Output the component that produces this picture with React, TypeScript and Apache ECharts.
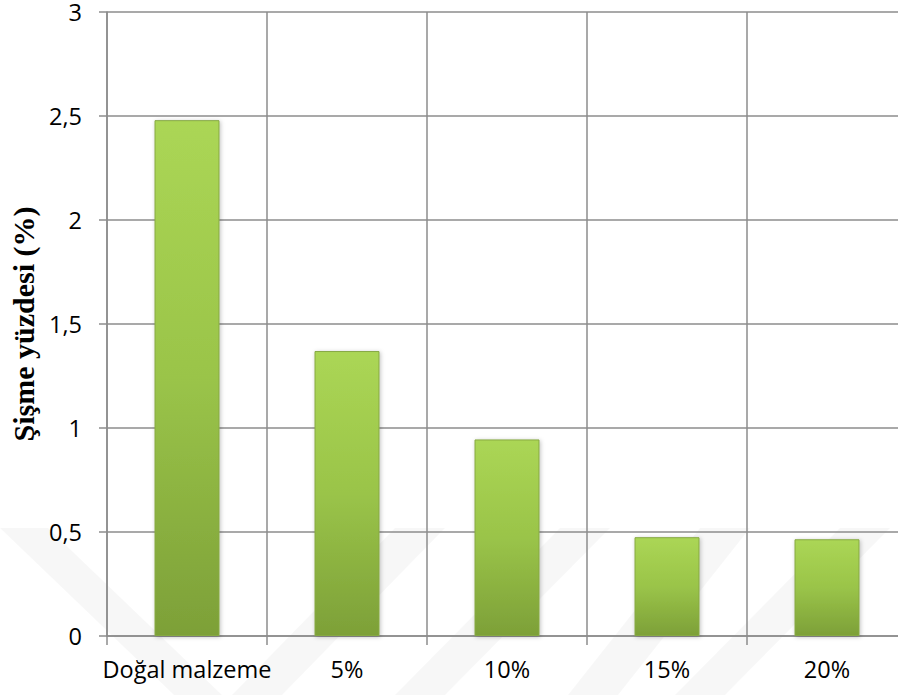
import React, { useEffect, useRef } from "react";
import * as echarts from "echarts";

const categories = ["Doğal malzeme", "5%", "10%", "15%", "20%"];
const swellValues = [2.48, 1.37, 0.945, 0.475, 0.465];
const yTitle = "Şişme yüzdesi (%)";

export default function App() {
  const ref = useRef<HTMLDivElement>(null);
  useEffect(() => {
    if (!ref.current) return;
    const chart = echarts.init(ref.current, undefined, { renderer: "svg" });
    const band = "rgba(0,0,0,0.03)";
    const barGrad = new echarts.graphic.LinearGradient(0, 0, 0, 1, [
      { offset: 0, color: "#abd655" },
      { offset: 0.5, color: "#9ac449" },
      { offset: 1, color: "#7da038" },
    ]);
    chart.setOption({
      animation: false,
      backgroundColor: "#ffffff",
      graphic: [
        { type: "polygon", z: -10, silent: true, shape: { points: [[0, 528], [48, 528], [222, 695], [174, 695]] }, style: { fill: band } },
        { type: "polygon", z: -10, silent: true, shape: { points: [[395, 528], [445, 528], [282, 695], [232, 695]] }, style: { fill: band } },
        { type: "polygon", z: -10, silent: true, shape: { points: [[560, 528], [610, 528], [445, 695], [395, 695]] }, style: { fill: band } },
        { type: "polygon", z: -10, silent: true, shape: { points: [[700, 528], [750, 528], [618, 695], [568, 695]] }, style: { fill: band } },
        { type: "polygon", z: -10, silent: true, shape: { points: [[840, 528], [890, 528], [725, 695], [675, 695]] }, style: { fill: band } },
      ],
      grid: { left: 107, right: 0, top: 12, bottom: 59, containLabel: false },
      xAxis: {
        type: "category",
        data: categories,
        axisLine: { show: true, lineStyle: { color: "#8c8c8c", width: 1.5 } },
        axisTick: { show: true, alignWithLabel: false, interval: 0, length: 9, lineStyle: { color: "#8c8c8c", width: 1.5 } },
        splitLine: { show: true, interval: 0, lineStyle: { color: "#8c8c8c", width: 1.5 } },
        axisLabel: {
          interval: 0,
          margin: 21,
          fontFamily: "Open Sans",
          fontSize: 23.5,
          color: "#000000",
        },
      },
      yAxis: {
        type: "value",
        min: 0,
        max: 3,
        interval: 0.5,
        name: yTitle,
        nameLocation: "middle",
        nameGap: 66,
        nameRotate: 90,
        nameTextStyle: {
          fontFamily: "Liberation Serif",
          fontWeight: "bold",
          fontSize: 30,
          color: "#000000",
        },
        axisLine: { show: true, lineStyle: { color: "#8c8c8c", width: 1.5 } },
        axisTick: { show: true, length: 8, lineStyle: { color: "#8c8c8c", width: 1.5 } },
        splitLine: { show: true, lineStyle: { color: "#8c8c8c", width: 1.5 } },
        axisLabel: {
          margin: 25,
          fontFamily: "Open Sans",
          fontSize: 23.5,
          lineHeight: 20,
          color: "#000000",
          formatter: (v: number) => String(v).replace(".", ","),
        },
      },
      series: [
        {
          type: "bar",
          data: swellValues,
          barWidth: 65,
          z: 3,
          itemStyle: {
            color: barGrad,
            borderColor: "#86a943",
            borderWidth: 1,
            shadowColor: "rgba(0,0,0,0.25)",
            shadowBlur: 4,
            shadowOffsetX: 1,
            shadowOffsetY: 1,
          },
        },
      ],
    });
    return () => chart.dispose();
  }, []);
  return (
    <div style={{ position: "fixed", left: 0, top: 0, width: 898, height: 695, overflow: "hidden", background: "#fff" }}>
      <div ref={ref} style={{ width: 907, height: 695 }} />
    </div>
  );
}
